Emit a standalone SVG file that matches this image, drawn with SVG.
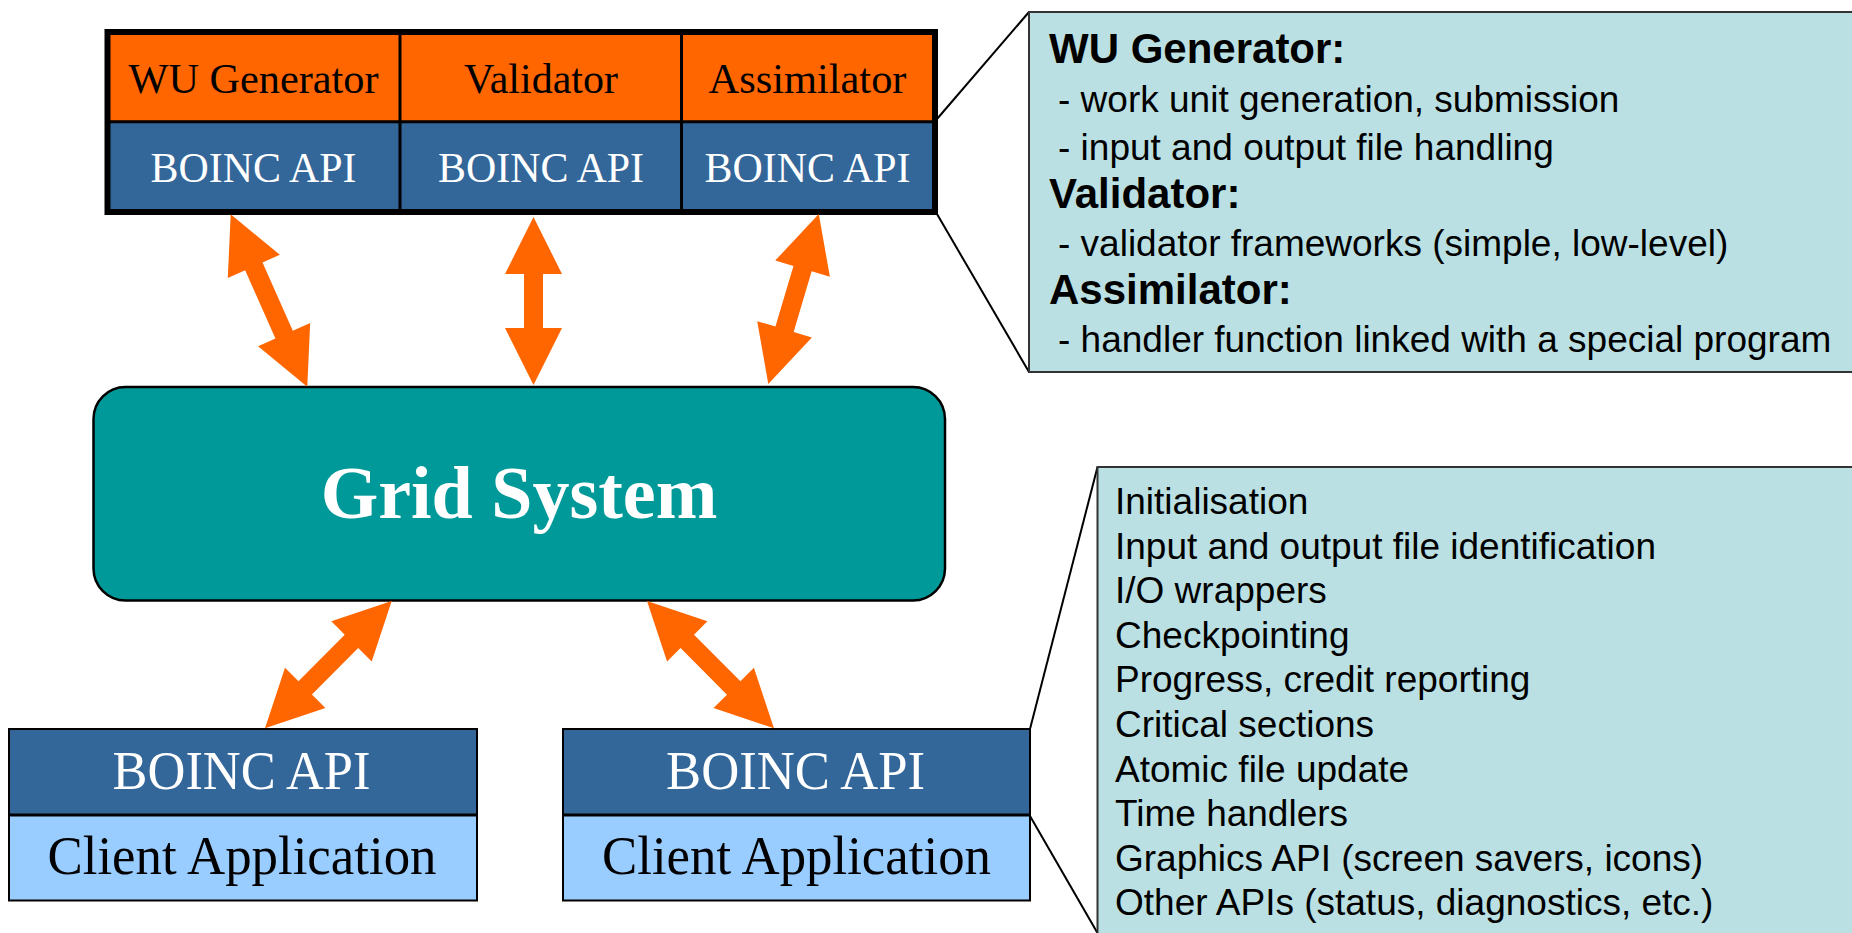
<svg xmlns="http://www.w3.org/2000/svg" width="1852" height="933" viewBox="0 0 1852 933">
  <style>
    .serif { font-family: "Liberation Serif", "Times New Roman", serif; }
    .sans { font-family: "Liberation Sans", Arial, sans-serif; }
    .cell-top { fill: #FF6600; }
    .cell-api { fill: #336699; }
    .cell-app { fill: #99CCFF; }
    .lbl-dark { fill: #000000; text-anchor: middle; }
    .lbl-light { fill: #FFFFFF; text-anchor: middle; }
    .callout { fill: #BBE0E3; stroke: #333333; stroke-width: 2; }
    .pointer { stroke: #000000; stroke-width: 2; fill: none; }
    .arrow { fill: #FF6600; }
    .note { font-size: 37px; fill: #000000; }
    .note-head { font-size: 42px; font-weight: bold; fill: #000000; }
  </style>

  <!-- Server-side components -->
  <g id="server-components">
    <rect class="cell-top" x="107.5" y="32" width="292.5" height="89.7"/>
    <rect class="cell-top" x="400" y="32" width="281.5" height="89.7"/>
    <rect class="cell-top" x="681.5" y="32" width="253.5" height="89.7"/>
    <rect class="cell-api" x="107.5" y="121.7" width="292.5" height="90.3"/>
    <rect class="cell-api" x="400" y="121.7" width="281.5" height="90.3"/>
    <rect class="cell-api" x="681.5" y="121.7" width="253.5" height="90.3"/>
    <line x1="107.5" y1="121.7" x2="935" y2="121.7" stroke="#000" stroke-width="3"/>
    <line x1="400" y1="32" x2="400" y2="212" stroke="#000" stroke-width="3"/>
    <line x1="681.5" y1="32" x2="681.5" y2="212" stroke="#000" stroke-width="3"/>
    <rect x="107.5" y="32" width="827.5" height="180" fill="none" stroke="#000" stroke-width="6"/>
    <g class="serif" font-size="43">
      <text class="lbl-dark" x="253.5" y="93" textLength="250" lengthAdjust="spacingAndGlyphs">WU Generator</text>
      <text class="lbl-dark" x="541" y="93" textLength="154" lengthAdjust="spacingAndGlyphs">Validator</text>
      <text class="lbl-dark" x="807.5" y="93" textLength="198" lengthAdjust="spacingAndGlyphs">Assimilator</text>
      <text class="lbl-light" x="253.5" y="182" textLength="206" lengthAdjust="spacingAndGlyphs">BOINC API</text>
      <text class="lbl-light" x="541" y="182" textLength="206" lengthAdjust="spacingAndGlyphs">BOINC API</text>
      <text class="lbl-light" x="807.5" y="182" textLength="206" lengthAdjust="spacingAndGlyphs">BOINC API</text>
    </g>
  </g>

  <!-- Central grid -->
  <g id="grid-system">
    <rect x="93.5" y="387" width="851.5" height="213.5" rx="32" ry="32" fill="#009999" stroke="#000" stroke-width="2.5"/>
    <text class="serif lbl-light" x="519" y="517.5" font-size="74" font-weight="bold">Grid System</text>
  </g>

  <!-- Client side, left -->
  <g id="client-left">
    <rect class="cell-api" x="9" y="729" width="468" height="86"/>
    <rect class="cell-app" x="9" y="815" width="468" height="85.5"/>
    <line x1="9" y1="815" x2="477" y2="815" stroke="#000" stroke-width="3"/>
    <rect x="9" y="729" width="468" height="171.5" fill="none" stroke="#000" stroke-width="2"/>
    <text class="serif lbl-light" x="241.5" y="789" font-size="54" textLength="258" lengthAdjust="spacingAndGlyphs">BOINC API</text>
    <text class="serif lbl-dark" x="242" y="874" font-size="54" textLength="389" lengthAdjust="spacingAndGlyphs">Client Application</text>
  </g>

  <!-- Client side, right -->
  <g id="client-right">
    <rect class="cell-api" x="563" y="729" width="467" height="86"/>
    <rect class="cell-app" x="563" y="815" width="467" height="85.5"/>
    <line x1="563" y1="815" x2="1030" y2="815" stroke="#000" stroke-width="3"/>
    <rect x="563" y="729" width="467" height="171.5" fill="none" stroke="#000" stroke-width="2"/>
    <text class="serif lbl-light" x="795.5" y="789" font-size="54" textLength="259" lengthAdjust="spacingAndGlyphs">BOINC API</text>
    <text class="serif lbl-dark" x="796.5" y="874" font-size="54" textLength="389" lengthAdjust="spacingAndGlyphs">Client Application</text>
  </g>

  <!-- Server notes -->
  <g id="server-notes">
    <line class="pointer" x1="937" y1="119" x2="1029" y2="12"/>
    <line class="pointer" x1="937" y1="214" x2="1029" y2="372"/>
    <rect class="callout" x="1029" y="12" width="850" height="360"/>
    <g class="sans">
      <text class="note-head" x="1049" y="63.3">WU Generator:</text>
      <text class="note" x="1058" y="111.5">- work unit generation, submission</text>
      <text class="note" x="1058" y="159.5">- input and output file handling</text>
      <text class="note-head" x="1049" y="207.5">Validator:</text>
      <text class="note" x="1058" y="255.5">- validator frameworks (simple, low-level)</text>
      <text class="note-head" x="1049" y="303.5">Assimilator:</text>
      <text class="note" x="1058" y="351.7">- handler function linked with a special program</text>
    </g>
  </g>

  <!-- Client API notes -->
  <g id="client-notes">
    <line class="pointer" x1="1030" y1="729" x2="1097.5" y2="467"/>
    <line class="pointer" x1="1030" y1="816" x2="1097.5" y2="933"/>
    <rect class="callout" x="1097.5" y="467" width="800" height="500"/>
    <g class="sans note">
      <text class="note" x="1115" y="514">Initialisation</text>
      <text class="note" x="1115" y="558.6">Input and output file identification</text>
      <text class="note" x="1115" y="603.2">I/O wrappers</text>
      <text class="note" x="1115" y="647.8">Checkpointing</text>
      <text class="note" x="1115" y="692.4">Progress, credit reporting</text>
      <text class="note" x="1115" y="737">Critical sections</text>
      <text class="note" x="1115" y="781.6">Atomic file update</text>
      <text class="note" x="1115" y="826.2">Time handlers</text>
      <text class="note" x="1115" y="870.8">Graphics API (screen savers, icons)</text>
      <text class="note" x="1115" y="915.4">Other APIs (status, diagnostics, etc.)</text>
    </g>
  </g>

  <!-- Two-way block arrows between components -->
  <g id="connectors">
    <polygon class="arrow" transform="translate(230.7,214.3) rotate(-23.95)" points="0,0 28.5,57 9.5,57 9.5,131.6 28.5,131.6 0,188.6 -28.5,131.6 -9.5,131.6 -9.5,57 -28.5,57"/>
    <polygon class="arrow" transform="translate(533.5,217)" points="0,0 28.5,57 9.5,57 9.5,111 28.5,111 0,168 -28.5,111 -9.5,111 -9.5,57 -28.5,57"/>
    <polygon class="arrow" transform="translate(818.8,214) rotate(16.55)" points="0,0 28.5,57 9.5,57 9.5,120.3 28.5,120.3 0,177.3 -28.5,120.3 -9.5,120.3 -9.5,57 -28.5,57"/>
    <polygon class="arrow" transform="translate(391.7,601) rotate(44.87)" points="0,0 28.5,57 9.5,57 9.5,122.6 28.5,122.6 0,179.6 -28.5,122.6 -9.5,122.6 -9.5,57 -28.5,57"/>
    <polygon class="arrow" transform="translate(647,601) rotate(-44.93)" points="0,0 28.5,57 9.5,57 9.5,122.8 28.5,122.8 0,179.8 -28.5,122.8 -9.5,122.8 -9.5,57 -28.5,57"/>
  </g>
</svg>
